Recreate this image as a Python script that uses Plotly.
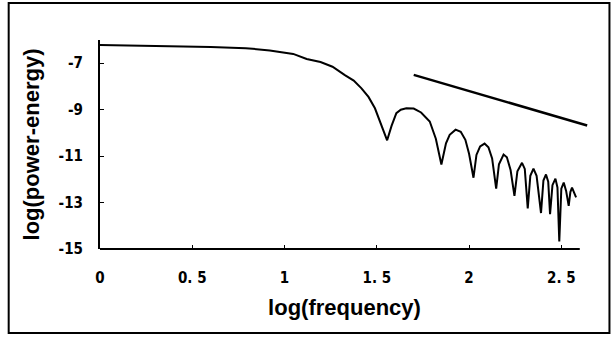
import plotly.graph_objects as go

# Spectrum curve (log frequency vs log power-energy)
log_freq = [0.0, 0.30, 0.60, 0.79, 0.92, 1.047, 1.12, 1.195, 1.26, 1.327, 1.375, 1.417, 1.455, 1.49, 1.52, 1.556,
            1.58, 1.606, 1.63, 1.66, 1.70, 1.74, 1.787, 1.82, 1.85,
            1.875, 1.895, 1.927, 1.955, 1.98, 2.0, 2.024,
            2.04, 2.06, 2.084, 2.105, 2.125, 2.147,
            2.162, 2.187, 2.205, 2.225, 2.246,
            2.262, 2.287, 2.302, 2.318,
            2.332, 2.349, 2.366, 2.39,
            2.403, 2.417, 2.429, 2.439,
            2.452, 2.468, 2.479, 2.489,
            2.500, 2.513, 2.526, 2.54,
            2.549, 2.558, 2.58]
log_power = [-6.22, -6.25, -6.30, -6.35, -6.45, -6.60, -6.82, -6.95, -7.15, -7.51, -7.75, -8.08, -8.45, -8.94, -9.55, -10.32,
             -9.70, -9.15, -9.00, -8.94, -8.95, -9.12, -9.51, -10.25, -11.36,
             -10.45, -10.08, -9.86, -9.95, -10.30, -10.90, -11.93,
             -10.95, -10.58, -10.46, -10.62, -11.10, -12.40,
             -11.35, -10.93, -11.05, -11.60, -12.71,
             -11.65, -11.29, -11.55, -13.25,
             -11.85, -11.54, -11.85, -13.45,
             -12.05, -11.79, -12.10, -13.50,
             -12.25, -11.97, -12.35, -14.68,
             -12.40, -12.14, -12.50, -13.14,
             -12.55, -12.36, -12.78]

# Reference slope line
slope_x = [1.70, 2.64]
slope_y = [-7.50, -9.68]

x_tick_vals = [0, 0.5, 1, 1.5, 2, 2.5]
x_tick_text = ["0", "0. 5", "1", "1. 5", "2", "2. 5"]
y_tick_vals = [-7, -9, -11, -13, -15]
y_tick_text = ["-7", "-9", "-11", "-13", "-15"]

tick_font = dict(family="Liberation Sans Narrow, DejaVu Sans Condensed, sans-serif", size=15, color="black", weight="bold")
title_font = dict(family="Liberation Sans, Arial, sans-serif", size=22, color="black", weight="bold")

fig = go.Figure()
fig.add_trace(go.Scatter(x=log_freq, y=log_power, mode="lines",
                         line=dict(color="black", width=2), showlegend=False, hoverinfo="skip"))
fig.add_trace(go.Scatter(x=slope_x, y=slope_y, mode="lines",
                         line=dict(color="black", width=2.5), showlegend=False, hoverinfo="skip"))

L, R, T, B = 99.5, 23.5, 40, 88
W, H = 613, 337
pw, ph = W - L - R, H - T - B


def px_x(p):
    return (p - L) / pw


def px_y(p):
    return ((H - B) - p) / ph


fig.update_layout(
    width=W, height=H,
    margin=dict(l=L, r=R, t=T, b=B),
    paper_bgcolor="white", plot_bgcolor="white",
    xaxis=dict(range=[0, 2.65], tickvals=x_tick_vals, ticktext=x_tick_text,
               ticks="inside", ticklen=4, tickwidth=1, tickcolor="black",
               showline=False, showgrid=False, zeroline=False,
               tickfont=tick_font, ticklabelstandoff=18,
               title=dict(text="log(frequency)", font=title_font, standoff=13)),
    yaxis=dict(range=[-15, -6], tickvals=y_tick_vals, ticktext=y_tick_text,
               ticks="inside", ticklen=4, tickwidth=1, tickcolor="black",
               showline=True, linecolor="black", linewidth=2,
               showgrid=False, zeroline=False,
               tickfont=tick_font, ticklabelstandoff=12,
               title=dict(text="log(power-energy)", font=title_font, standoff=13)),
    shapes=[
        # bottom axis line (ends at 2.6)
        dict(type="line", xref="x", yref="paper", x0=0, x1=2.6, y0=0, y1=0,
             line=dict(color="black", width=2)),
        # outer frame
        dict(type="rect", xref="paper", yref="paper",
             x0=px_x(8), x1=px_x(610), y0=px_y(333), y1=px_y(3),
             line=dict(color="black", width=2), fillcolor="rgba(0,0,0,0)", layer="above"),
    ],
)

fig.write_html("out.html", config={"displayModeBar": False, "staticPlot": True},
               post_script="document.body.style.margin='0';document.body.style.padding='0';document.body.style.overflow='hidden';")
